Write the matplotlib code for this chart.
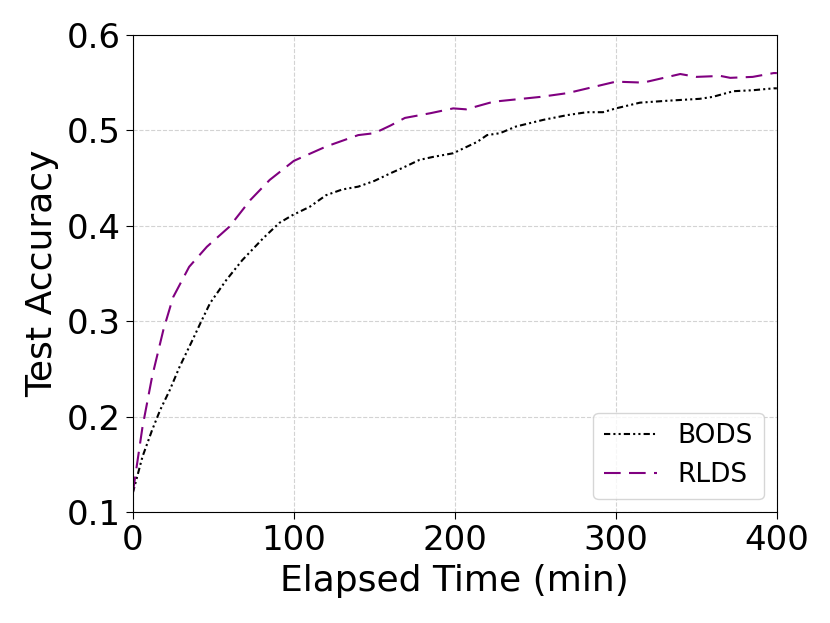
import numpy as np
import matplotlib.pyplot as plt

# values
bods_t = [0, 6, 12, 17, 23, 29, 37, 42, 48, 58, 68, 81, 91, 99, 110, 120, 130, 140, 150, 160,
          168, 178, 186, 199, 214, 220, 228, 238, 255, 270, 282, 292, 300, 315, 332, 352, 360,
          373, 385, 398, 400]
bods_acc = [0.120, 0.158, 0.186, 0.207, 0.228, 0.252, 0.280, 0.298, 0.319, 0.343, 0.364, 0.387,
            0.403, 0.411, 0.420, 0.432, 0.438, 0.441, 0.447, 0.455, 0.461, 0.469, 0.472, 0.476,
            0.488, 0.495, 0.497, 0.504, 0.511, 0.516, 0.519, 0.519, 0.523, 0.529, 0.531, 0.533,
            0.535, 0.541, 0.542, 0.544, 0.544]

rlds_t = [0, 6, 12, 19, 25, 35, 46, 60, 73, 85, 100, 120, 140, 150, 160, 169, 185, 199, 207,
          224, 253, 270, 300, 317, 340, 350, 365, 371, 385, 398, 400]
rlds_acc = [0.120, 0.189, 0.242, 0.291, 0.325, 0.357, 0.378, 0.399, 0.427, 0.448, 0.468, 0.483,
            0.495, 0.497, 0.505, 0.513, 0.518, 0.523, 0.522, 0.530, 0.535, 0.539, 0.551, 0.550,
            0.559, 0.556, 0.557, 0.555, 0.556, 0.560, 0.560]

plt.rcParams['font.family'] = 'DejaVu Sans'

fig, ax = plt.subplots(figsize=(8.3, 6.23), dpi=100)
fig.subplots_adjust(left=0.16, right=0.936, top=0.944, bottom=0.178)

ax.plot(bods_t, bods_acc, color='black', linewidth=1.5,
        linestyle=(0, (3, 1.5, 1, 1.5, 1, 1.5)), label='BODS')
ax.plot(rlds_t, rlds_acc, color='purple', linewidth=1.5,
        linestyle=(0, (8, 4)), label='RLDS')

ax.set_xlim(0, 400)
ax.set_ylim(0.1, 0.6)
ax.set_xticks([0, 100, 200, 300, 400])
ax.set_yticks([0.1, 0.2, 0.3, 0.4, 0.5, 0.6])
ax.tick_params(labelsize=24.5, length=5)
ax.set_xlabel('Elapsed Time (min)', fontsize=26, labelpad=5)
ax.set_ylabel('Test Accuracy', fontsize=26, labelpad=6)
ax.grid(True, linestyle='--', color='lightgray', linewidth=0.8)

ax.legend(loc='lower right', fontsize=19)

fig.savefig('out.png')
